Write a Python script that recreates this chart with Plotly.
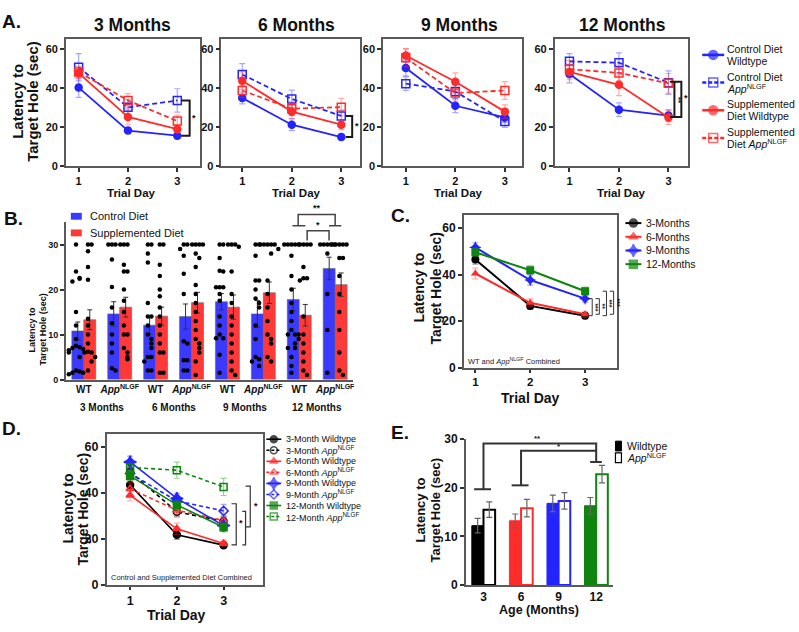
import plotly.graph_objects as go

W, H = 799, 632
FONT = "Liberation Sans, Arial, sans-serif"
APP = "<i>App</i><sup>NLGF</sup>"

# ---------------- A. latency per trial day, one panel per age ----------------
DAYS = [1, 2, 3]
A_TITLES = ["3 Months", "6 Months", "9 Months", "12 Months"]
# rows: 3, 6, 9, 12 months ; columns: trial day 1, 2, 3
A_CTRL_WT = [[40.3, 18.3, 15.7], [35.0, 21.3, 15.0], [50.3, 31.0, 25.0], [47.2, 29.0, 26.0]]
A_CTRL_WT_SEM = [[5.0, 1.5, 1.5], [3.0, 3.0, 1.5], [4.0, 3.5, 2.5], [4.5, 3.5, 3.0]]
A_CTRL_APP = [[50.7, 30.2, 33.7], [47.0, 34.5, 25.8], [42.3, 38.3, 23.0], [53.7, 53.0, 42.8]]
A_CTRL_APP_SEM = [[7.0, 4.0, 6.0], [5.5, 4.5, 3.0], [3.5, 3.5, 3.0], [4.0, 5.0, 6.0]]
A_SUPP_WT = [[47.7, 25.3, 19.0], [43.8, 28.0, 21.3], [56.7, 43.3, 28.0], [48.3, 41.7, 25.0]]
A_SUPP_WT_SEM = [[3.0, 4.0, 2.0], [4.5, 3.5, 2.5], [3.5, 4.5, 3.5], [4.0, 5.5, 3.5]]
A_SUPP_APP = [[48.3, 33.7, 23.2], [38.8, 29.5, 30.3], [55.5, 37.5, 38.8], [49.7, 47.8, 42.5]]
A_SUPP_APP_SEM = [[3.0, 3.5, 3.0], [3.5, 3.5, 4.5], [4.5, 4.0, 4.5], [4.5, 4.0, 5.0]]

# ---------------- B. probe trial, bars + individual mice ----------------
B_GROUPS = ["3 Months", "6 Months", "9 Months", "12 Months"]
B_TICKS = ["WT", APP] * 4
B_CTRL = [10.8, 14.6, 12.1, 14.0, 17.3, 14.6, 17.8, 24.7]
B_CTRL_SEM = [2.0, 2.7, 2.0, 2.8, 1.8, 3.0, 2.5, 2.5]
B_SUPP = [13.3, 16.1, 14.1, 17.1, 16.1, 19.3, 14.3, 21.1]
B_SUPP_SEM = [2.2, 2.2, 2.0, 2.3, 2.7, 2.4, 2.4, 2.6]
B_CTRL_PTS = [
    [30, 24, 22.6, 22.4, 21.8, 15, 12, 9, 7.5, 7.2, 7, 6.8, 6.5, 6, 5, 2, 1.8, 1.5, 1.5, 1.2],
    [30, 30, 30, 26.7, 20.6, 16, 12.5, 10, 8, 6, 2.5, 2],
    [30, 30, 28, 26, 17, 14, 14, 12, 10, 9, 8, 7, 5, 5, 4, 2, 2],
    [30, 30, 29, 27.5, 23.5, 19, 8.5, 8, 4.3, 4.3, 2, 2],
    [30, 30, 27, 24.2, 24, 20.5, 20.5, 20.5, 19, 17.5, 14, 12, 10, 9.2, 9.2, 5.5, 1.5],
    [30, 30, 27.5, 22, 22, 20, 18, 17, 16, 12, 9, 5, 4.5, 4, 3],
    [30, 30, 30, 30, 30, 27.5, 23, 20, 17, 15, 13, 11, 10, 10, 10, 9, 8, 7, 7, 5, 3, 1.5],
    [30, 30, 30, 30, 30, 28, 19, 11, 1.5],
]
B_SUPP_PTS = [
    [30, 30, 28.5, 25, 22.2, 13.5, 12, 10, 8, 6.2, 6, 6, 5, 4, 2],
    [30, 30, 30, 25.5, 24, 24, 20, 17.5, 15, 12, 10, 10, 7, 6, 5, 4.5],
    [30, 30, 25.5, 23, 20, 18.5, 16, 14, 12, 10, 8, 6, 6, 1.5, 1.5],
    [30, 30, 30, 30, 28, 27, 25, 21, 19, 17, 15, 13, 11, 9, 8, 7, 6, 4, 1],
    [30, 30, 30, 29.5, 24, 19, 17, 14, 12, 10, 8, 6, 4, 2, 1],
    [30, 30, 30, 30, 30, 29, 28, 22, 19, 16, 13, 10, 9, 8, 5, 4],
    [30, 30, 30, 30, 25, 22.5, 22.5, 22, 14, 10, 8, 6, 4, 2, 1],
    [30, 30, 30, 30, 30, 27, 27, 23, 19, 15, 11, 6, 2, 1],
]

# ---------------- C. WT and App combined ----------------
C_NAMES = ["3-Months", "6-Months", "9-Months", "12-Months"]
C_MEAN = [[46.5, 26.6, 22.4], [40.5, 27.9, 23.0], [51.7, 37.7, 29.7], [49.6, 41.9, 32.9]]
C_SEM = [[2.0, 1.5, 1.3], [2.3, 1.7, 1.3], [2.0, 2.2, 1.5], [1.8, 2.0, 1.8]]

# ---------------- D. diets combined ----------------
D_NAMES = ["3-Month Wildtype", "3-Month " + APP, "6-Month Wildtype", "6-Month " + APP,
           "9-Month Wildtype", "9-Month " + APP, "12-Month Wildtype", "12-Month " + APP]
D_MEAN = [[43.5, 21.8, 17.3], [49.2, 31.8, 27.7], [39.0, 24.4, 18.0], [41.8, 32.5, 28.0],
          [53.5, 37.6, 25.8], [48.5, 36.5, 32.2], [47.4, 34.8, 25.1], [51.1, 49.9, 42.6]]
D_SEM = [[2.3, 2.0, 1.3], [2.5, 2.2, 2.0], [2.5, 2.5, 1.5], [2.8, 2.5, 2.2],
         [2.5, 2.2, 2.0], [2.5, 2.5, 2.8], [2.3, 2.3, 2.0], [2.5, 3.5, 3.7]]

# ---------------- E. all days combined, by age ----------------
E_AGES = ["3", "6", "9", "12"]
E_WT = [12.2, 13.2, 16.8, 16.3]
E_WT_SEM = [1.5, 1.4, 1.7, 1.7]
E_APP = [15.5, 15.8, 17.3, 22.8]
E_APP_SEM = [1.6, 1.8, 1.7, 1.8]

BLUE, RED, GREEN, BLACK = "#2424ff", "#ff2c2c", "#0f850f", "#000000"
BLUE_A, RED_A = "rgba(36,36,255,0.4)", "rgba(255,44,44,0.4)"
AGE_COL = [BLACK, RED, BLUE, GREEN]
AGE_COL_A = ["rgba(0,0,0,0.4)", RED_A, BLUE_A, "rgba(15,133,15,0.4)"]

# pixel box (left, top, right, bottom), x range, y range
PANELS = {
    "a1": ((66, 33, 201, 163), (0.74, 3.47), (0, 65)),
    "a2": ((222, 33, 361, 163), (0.58, 3.38), (0, 65)),
    "a3": ((384, 33, 523, 163), (0.54, 3.34), (0, 65)),
    "a4": ((556, 33, 690, 163), (0.70, 3.40), (0, 65)),
    "b": ((66, 220, 354, 381), (-0.5, 7.5), (0, 35)),
    "c": ((465, 213, 619, 369), (0.79, 3.59), (0, 65.5)),
    "d": ((107, 437, 264, 591), (0.50, 3.85), (0, 65.5)),
    "e": ((467, 442, 615, 591), (-0.47, 3.46), (0, 30)),
}
AX = {"a1": "", "a2": "2", "a3": "3", "a4": "4", "b": "5", "c": "6", "d": "7", "e": "8"}


def to_px(p, xv, yv):
    (x0, y0, x1, y1), xr, yr = PANELS[p]
    return (x0 + (xv - xr[0]) / (xr[1] - xr[0]) * (x1 - x0),
            y1 - (yv - yr[0]) / (yr[1] - yr[0]) * (y1 - y0))


layout = dict(width=W, height=H, margin=dict(l=0, r=0, t=0, b=0),
              paper_bgcolor="white", plot_bgcolor="rgba(0,0,0,0)",
              showlegend=False, hovermode=False, barmode="overlay",
              font=dict(family=FONT, color="#111"))
shapes, annots = [], []


def axes(p, mirror, xvals, xtext, yvals, xsize, ysize, xticks="outside", yticks="outside"):
    (x0, y0, x1, y1), xr, yr = PANELS[p]
    n = AX[p]
    common = dict(showgrid=False, zeroline=False, showline=True, linecolor="#5a5a5a",
                  linewidth=1.5, mirror=mirror, ticklen=4, tickwidth=1.5,
                  tickcolor="#333", fixedrange=True)
    layout["xaxis" + n] = dict(common, domain=[x0 / W, x1 / W], range=list(xr),
                               anchor="y" + n, ticks=xticks, tickvals=xvals, ticktext=xtext,
                               tickfont=dict(family=FONT, size=xsize, weight="bold", color="#111"))
    layout["yaxis" + n] = dict(common, domain=[1 - y1 / H, 1 - y0 / H], range=list(yr),
                               anchor="x" + n, ticks=yticks, tickvals=yvals,
                               tickfont=dict(family=FONT, size=ysize, weight="bold", color="#111"))


def path_px(pts, color="#1a1a1a", width=1.5, dash="solid"):
    d = "M " + " L ".join(f"{x:.2f},{y:.2f}" for x, y in pts)
    shapes.append(dict(type="path", path=d, xref="x9", yref="y9",
                       line=dict(color=color, width=width, dash=dash)))


def path_data(p, pts, **kw):
    path_px([to_px(p, x, y) for x, y in pts], **kw)


def text_px(x, y, s, size, bold=False, angle=0, xanchor="center", color="#111"):
    annots.append(dict(xref="x9", yref="y9", x=x, y=y, text=s, showarrow=False,
                       textangle=angle, xanchor=xanchor, yanchor="middle",
                       font=dict(family=FONT, size=size, color=color,
                                 weight="bold" if bold else "normal")))


def text_data(p, xv, yv, s, size, **kw):
    x, y = to_px(p, xv, yv)
    text_px(x, y, s, size, **kw)


def ytitle(x1, x2, yc, size):
    text_px(x1, yc, "Latency to", size, bold=True, angle=-90)
    text_px(x2, yc, "Target Hole (sec)", size, bold=True, angle=-90)


glyph = dict(x=[], y=[], symbol=[], size=[], color=[], line=[])


def legend_row(xl, xr_, y, color, dash, symbol, size, lw=2):
    path_px([(xl, y), (xr_, y)], color=color, width=lw, dash=dash)
    glyph["x"].append((xl + xr_) / 2)
    glyph["y"].append(y)
    glyph["symbol"].append(symbol)
    glyph["size"].append(size)
    glyph["color"].append(color)
    glyph["line"].append(color)


fig = go.Figure()

# ---------------- panel A ----------------
a_series = [(A_CTRL_WT, A_CTRL_WT_SEM, BLUE, BLUE_A, "solid", "circle", 7),
            (A_CTRL_APP, A_CTRL_APP_SEM, BLUE, BLUE_A, "5px,3px", "square-open", 8),
            (A_SUPP_WT, A_SUPP_WT_SEM, RED, RED_A, "solid", "circle", 7),
            (A_SUPP_APP, A_SUPP_APP_SEM, RED, RED_A, "5px,3px", "square-open", 8)]
for i, p in enumerate(["a1", "a2", "a3", "a4"]):
    n = AX[p]
    axes(p, True, [1, 2, 3], ["1", "2", "3"], [0, 20, 40, 60], 11, 11)
    for vals, sem, col, cola, dash, sym, size in a_series:
        fig.add_trace(go.Scatter(
            x=DAYS, y=vals[i], mode="lines+markers", cliponaxis=False,
            error_y=dict(type="data", array=sem[i], color=cola, thickness=1.2, width=3),
            line=dict(color=col, width=1.8, dash=dash),
            marker=dict(symbol=sym, size=size, color=col, line=dict(color=col, width=1.5)),
            xaxis="x" + n, yaxis="y" + n))
    text_px([133, 297, 461, 624][i], 18, A_TITLES[i], 17.5, bold=True)
    text_px([132, 297, 460, 623][i], 190, "Trial Day", 11.5, bold=True)

ytitle(18, 33, 96, 15)
text_px(12, 15, "A.", 19, bold=True)

path_data("a1", [(3.08, 33.7), (3.25, 33.7), (3.25, 15.7), (3.08, 15.7)], width=2)
text_data("a1", 3.34, 24.7, "*", 9, bold=True)
path_data("a2", [(3.09, 25.8), (3.22, 25.8), (3.22, 15.0), (3.09, 15.0)], width=2)
text_data("a2", 3.32, 20.4, "*", 9, bold=True)
path_data("a4", [(3.03, 43.3), (3.26, 43.3), (3.26, 25.2), (3.03, 25.2)], width=2)
path_data("a4", [(3.12, 43.3), (3.12, 25.2)], width=2)
text_data("a4", 3.19, 33.5, "**", 8, bold=True, angle=90)
text_data("a4", 3.35, 35.0, "*", 9, bold=True)

a_leg = [("Control Diet", "Wildtype", BLUE, "solid", "circle"),
         ("Control Diet", APP, BLUE, "4px,2px", "square-open"),
         ("Supplemented", "Diet Wildtype", RED, "solid", "circle"),
         ("Supplemented", "Diet " + APP, RED, "4px,2px", "square-open")]
for k, (l1, l2, col, dash, sym) in enumerate(a_leg):
    yc = 49 + k * 28.3
    legend_row(704, 726, yc, col, dash, sym, 9, lw=2.5)
    text_px(727, yc - 6, l1, 10.5, xanchor="left")
    text_px(727, yc + 6, l2, 10.5, xanchor="left")

# ---------------- panel B ----------------
def swarm(vals, center, step=0.1, tol=1.4):
    xs, seen = [], []
    for v in vals:
        k = sum(abs(s - v) < tol for s in seen)
        seen.append(v)
        xs.append(center + (k // 2 + 0.5) * step * (1 if k % 2 else -1))
    return xs


cats = list(range(len(B_CTRL)))
axes("b", False, cats, B_TICKS, [0, 10, 20, 30], 10, 9, xticks="")
for vals, sem, col, off in [(B_CTRL, B_CTRL_SEM, "#3a3aff", -1 / 3), (B_SUPP, B_SUPP_SEM, "#ff3838", 0)]:
    fig.add_trace(go.Bar(x=cats, y=vals, offset=off, width=1 / 3,
                         marker=dict(color=col, line=dict(color="#666", width=0.6)),
                         error_y=dict(type="data", array=sem, color="#333", thickness=1, width=2.5),
                         xaxis="x5", yaxis="y5"))
dx, dy = [], []
for i in cats:
    for pts, off in [(B_CTRL_PTS[i], -1 / 6), (B_SUPP_PTS[i], 1 / 6)]:
        dx += swarm(pts, i + off)
        dy += pts
fig.add_trace(go.Scatter(x=dx, y=dy, mode="markers", cliponaxis=False,
                         marker=dict(size=4.5, color="#000"), xaxis="x5", yaxis="y5"))
for g, name in enumerate(B_GROUPS):
    x, _ = to_px("b", 2 * g + 0.5, 0)
    text_px(x, 410, name, 10, bold=True)
ytitle(32, 43, 330, 9)
text_px(14, 216, "B.", 19, bold=True)
bk = dict(color="#444", width=1.5)
path_data("b", [(5.81, 34.2), (6.17, 34.2)], **bk)
path_data("b", [(5.97, 34.2), (5.97, 36.7), (7.0, 36.7), (7.0, 34.2)], **bk)
path_data("b", [(6.83, 34.2), (7.17, 34.2)], **bk)
path_data("b", [(6.22, 30.9), (6.22, 33.1), (6.83, 33.1), (6.83, 30.9)], **bk)
text_data("b", 6.5, 38.1, "**", 9, bold=True)
text_data("b", 6.52, 34.4, "*", 9, bold=True)
shapes.append(dict(type="rect", xref="x9", yref="y9", x0=71, x1=82, y0=210.5, y1=217.5,
                   fillcolor="#3a3aff", line=dict(width=0)))
shapes.append(dict(type="rect", xref="x9", yref="y9", x0=71, x1=82, y0=227.5, y1=234.5,
                   fillcolor="#ff3838", line=dict(width=0)))
text_px(88, 214, "Control Diet", 11, xanchor="left")
text_px(88, 231, "Supplemented Diet", 11, xanchor="left")

# ---------------- panel C ----------------
axes("c", True, [1, 2, 3], ["1", "2", "3"], [0, 20, 40, 60], 11.5, 12)
layout["xaxis6"]["ticklen"] = 3
c_sym = ["circle", "triangle-up", "star-diamond", "square"]
c_size = [8, 8, 9, 8]
for k in range(4):
    fig.add_trace(go.Scatter(
        x=DAYS, y=C_MEAN[k], mode="lines+markers", cliponaxis=False,
        error_y=dict(type="data", array=C_SEM[k], color=AGE_COL_A[k], thickness=1.2, width=3),
        line=dict(color=AGE_COL[k], width=2),
        marker=dict(symbol=c_sym[k], size=c_size[k], color=AGE_COL[k]),
        xaxis="x6", yaxis="y6"))
    legend_row(627, 643, 221 + 14 * k, AGE_COL[k], "solid", c_sym[k], c_size[k])
    text_px(646, 221 + 14 * k, C_NAMES[k], 10.5, xanchor="left")
for top, bot, xv, lab in [(29.7, 22.4, 3.13, "***"), (29.7, 23.0, 3.26, "**"),
                          (32.9, 22.4, 3.39, "***"), (32.9, 23.0, 3.52, "***")]:
    path_data("c", [(xv - 0.07, top), (xv, top), (xv, bot), (xv - 0.07, bot)], color="#333", width=1)
    text_data("c", xv + 0.065, (top + bot) / 2, lab, 7, bold=True, angle=90)
text_px(467, 362, "WT and " + APP + " Combined", 7.5, xanchor="left", color="#222")
ytitle(420, 437, 287, 14)
text_px(532, 400, "Trial Day", 14, bold=True)
text_px(401, 213, "C.", 19, bold=True)

# ---------------- panel D ----------------
axes("d", True, [1, 2, 3], ["1", "2", "3"], [0, 20, 40, 60], 12.5, 12.5)
layout["xaxis7"]["ticklen"] = 3
d_sym = ["circle", "circle-open", "triangle-up", "triangle-up-open",
         "star-diamond", "diamond-open", "square", "square-open"]
for k in range(8):
    col, cola = AGE_COL[k // 2], AGE_COL_A[k // 2]
    dash = "solid" if k % 2 == 0 else "4px,3px"
    size = 9 if k == 4 else 7
    fig.add_trace(go.Scatter(
        x=DAYS, y=D_MEAN[k], mode="lines+markers", cliponaxis=False,
        error_y=dict(type="data", array=D_SEM[k], color=cola, thickness=1.2, width=3),
        line=dict(color=col, width=1.6, dash=dash),
        marker=dict(symbol=d_sym[k], size=size, color=col, line=dict(color=col, width=1.5)),
        xaxis="x7", yaxis="y7"))
    yc = 442 + 11.3 * k
    legend_row(267, 282, yc, col, "solid" if k % 2 == 0 else "3px,2px", d_sym[k], size, lw=1.6)
    text_px(285, yc, D_NAMES[k], 9, xanchor="left")
dk = dict(color="#333", width=1.2)
path_data("d", [(3.17, 35.3), (3.27, 35.3), (3.27, 17.4), (3.17, 17.4)], **dk)
text_data("d", 3.38, 26.8, "*", 9, bold=True)
path_data("d", [(3.40, 32.0), (3.47, 32.0), (3.47, 17.4), (3.40, 17.4)], **dk)
path_data("d", [(3.47, 25.2), (3.57, 25.2), (3.57, 43.0), (3.47, 43.0)], **dk)
text_data("d", 3.70, 34.2, "*", 9, bold=True)
text_px(182, 583, "Control and Supplemented Diet Combined", 7.5, color="#222")
ytitle(68, 83, 513, 14)
text_px(177, 622, "Trial Day", 14, bold=True)
text_px(12, 431, "D.", 19, bold=True)

# ---------------- panel E ----------------
ecats = list(range(len(E_AGES)))
axes("e", False, ecats, E_AGES, [0, 10, 20, 30], 12, 12, xticks="")
fig.add_trace(go.Bar(x=ecats, y=E_WT, offset=-0.31, width=0.31,
                     marker=dict(color=AGE_COL, line=dict(color=AGE_COL, width=1)),
                     error_y=dict(type="data", array=E_WT_SEM, color="#666", thickness=1.2, width=3),
                     xaxis="x8", yaxis="y8"))
fig.add_trace(go.Bar(x=ecats, y=E_APP, offset=0.0, width=0.31,
                     marker=dict(color="white", line=dict(color=AGE_COL, width=2)),
                     error_y=dict(type="data", array=E_APP_SEM, color="#666", thickness=1.2, width=3),
                     xaxis="x8", yaxis="y8"))
ek = dict(color="#333", width=2)
path_data("e", [(0.0, 19.7), (0.0, 29.1), (3.0, 29.1), (3.0, 25.3)], **ek)
path_data("e", [(-0.25, 19.7), (0.2, 19.7)], **ek)
path_data("e", [(2.84, 25.3), (3.15, 25.3)], **ek)
path_data("e", [(1.0, 20.5), (1.0, 27.6), (3.0, 27.6)], **ek)
path_data("e", [(0.75, 20.5), (1.2, 20.5)], **ek)
text_data("e", 1.45, 30.1, "**", 8, bold=True)
text_data("e", 2.0, 28.4, "*", 8, bold=True)
shapes.append(dict(type="rect", xref="x9", yref="y9", x0=617, x1=623, y0=444, y1=454,
                   fillcolor="#000", line=dict(color="#000", width=1)))
shapes.append(dict(type="rect", xref="x9", yref="y9", x0=617, x1=623, y0=456, y1=466,
                   fillcolor="white", line=dict(color="#000", width=1.2)))
text_px(627, 449, "Wildtype", 10.5, xanchor="left")
text_px(627, 461, APP, 10.5, xanchor="left")
ytitle(422, 437, 514, 13)
text_px(540, 617, "Age (Months)", 12.5, bold=True)
text_px(401, 435, "E.", 19, bold=True)

# legend glyph markers on a full-page overlay axis (pixel units)
fig.add_trace(go.Scatter(x=glyph["x"], y=glyph["y"], mode="markers", cliponaxis=False,
                         marker=dict(symbol=glyph["symbol"], size=glyph["size"], color=glyph["color"],
                                     line=dict(color=glyph["line"], width=1.5)),
                         xaxis="x9", yaxis="y9"))
layout["xaxis9"] = dict(domain=[0, 1], range=[0, W], visible=False, fixedrange=True, anchor="y9")
layout["yaxis9"] = dict(domain=[0, 1], range=[H, 0], visible=False, fixedrange=True, anchor="x9")
layout["shapes"] = shapes
layout["annotations"] = annots
fig.update_layout(**layout)

# drop the default page margin so the figure sits at the window's top-left corner
fig.write_html("out.html", config={"displayModeBar": False},
               post_script="document.body.style.margin='0px';")
